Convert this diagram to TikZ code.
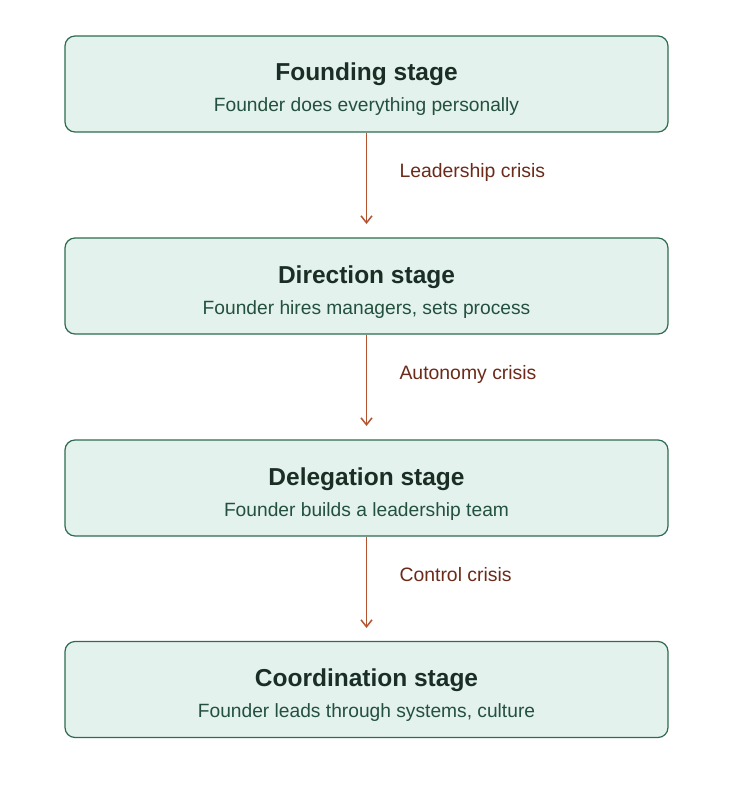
\documentclass[tikz,border=0pt]{standalone}
\usepackage{fontspec}
\setmainfont{Liberation Sans}
\usetikzlibrary{arrows.meta}
\definecolor{boxfill}{HTML}{E3F2EC}
\definecolor{boxdraw}{HTML}{2E6B50}
\definecolor{titlec}{HTML}{1A2E26}
\definecolor{subc}{HTML}{245040}
\definecolor{arrc}{HTML}{B5532F}
\definecolor{labc}{HTML}{6B2A1A}
\begin{document}
\begin{tikzpicture}[x=1pt,y=-1pt,
 stage/.style={draw=boxdraw,fill=boxfill,line width=1.2pt,rounded corners=10pt,minimum width=603pt,minimum height=96pt},
 ttl/.style={text=titlec,font=\fontsize{24.5}{28}\selectfont\bfseries,anchor=base},
 sub/.style={text=subc,font=\fontsize{19.2}{23}\selectfont,anchor=base},
 arr/.style={draw=arrc,line width=1.5pt,-{Straight Barb[length=7pt,width=11pt]}},
 lab/.style={text=labc,font=\fontsize{19.4}{23}\selectfont,anchor=base west}]
\useasboundingbox (0,0) rectangle (732,794);
\node[stage] (b1) at (366.5,84) {};
\node[stage] (b2) at (366.5,286) {};
\node[stage] (b3) at (366.5,488) {};
\node[stage] (b4) at (366.5,689.5) {};
\coordinate (e1) at (366.5,224);
\coordinate (e2) at (366.5,426);
\coordinate (e3) at (366.5,628);
\node[ttl] (t1) at (366.5,81) {Founding stage};
\node[sub] (s1) at (366.5,112) {Founder does everything personally};
\node[ttl] (t2) at (366.5,283) {Direction stage};
\node[sub] (s2) at (366.5,314) {Founder hires managers, sets process};
\node[ttl] (t3) at (366.5,485) {Delegation stage};
\node[sub] (s3) at (366.5,516) {Founder builds a leadership team};
\node[ttl] (t4) at (366.5,686.5) {Coordination stage};
\node[sub] (s4) at (366.5,717.5) {Founder leads through systems, culture};
\draw[arr] (b1.south) -- (e1);
\draw[arr] (b2.south) -- (e2);
\draw[arr] (b3.south) -- (e3);
\node[lab] (l1) at (396,178) {Leadership crisis};
\node[lab] (l2) at (396,379) {Autonomy crisis};
\node[lab] (l3) at (396,581) {Control crisis};
\end{tikzpicture}
\end{document}
